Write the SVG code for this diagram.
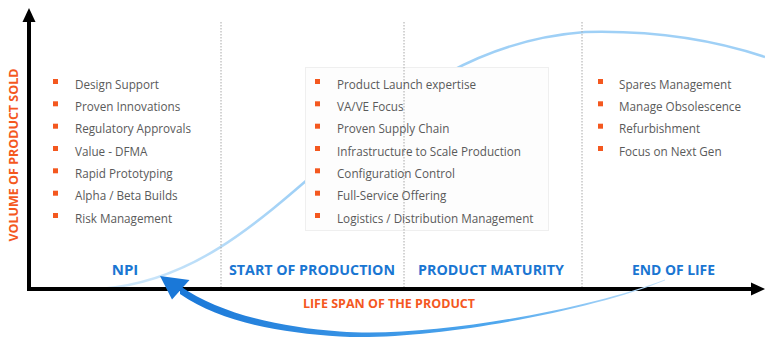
<svg xmlns="http://www.w3.org/2000/svg" width="765" height="338" viewBox="0 0 765 338">
<style>
.item{font-family:"Open Sans","DejaVu Sans",sans-serif;font-size:11.7px;fill:#5a5a5a}
.bul{fill:#f4581f}
.phase{font-family:"Open Sans","DejaVu Sans",sans-serif;font-size:15px;font-weight:bold;fill:#1a76d2}
.axl{font-family:"Open Sans","DejaVu Sans",sans-serif;font-size:12.5px;font-weight:bold;fill:#f4581f}
.div{stroke:#a8a8a8;stroke-width:1;stroke-dasharray:1.5 1.5;fill:none}
.axis{stroke:#000;stroke-width:4;fill:none}
</style>
<defs>
<linearGradient id="sg" gradientUnits="userSpaceOnUse" x1="100" y1="0" x2="300" y2="0">
<stop offset="0" stop-color="#d6ebfb"/>
<stop offset="1" stop-color="#9fd0f6"/>
</linearGradient>
<linearGradient id="ag" gradientUnits="userSpaceOnUse" x1="665" y1="0" x2="180" y2="0">
<stop offset="0" stop-color="#c5e3fb"/>
<stop offset="0.35" stop-color="#4ea7ee"/>
<stop offset="1" stop-color="#1a78d8"/>
</linearGradient>
</defs>
<rect width="765" height="338" fill="#fff"/>

<g id="lifecycle-curve">
<path d="M100,289 C190,282 250,230 330,160 S480,40 585,32 C660,30 720,42 765,57" fill="none" stroke="url(#sg)" stroke-width="2.5"/>
</g>

<g id="maturity-box">
<rect x="305.5" y="67.5" width="243" height="163" fill="#fdfdfd" stroke="#efefef"/>
</g>

<g id="dividers">
<line class="div" x1="221" y1="22" x2="221" y2="288"/>
<line class="div" x1="404" y1="22" x2="404" y2="288"/>
<line class="div" x1="582" y1="22" x2="582" y2="288"/>
</g>

<g id="axes">
<line class="axis" x1="29" y1="18" x2="29" y2="291"/>
<polygon points="29,8 22.5,22 35.5,22" fill="#000"/>
<line class="axis" x1="27" y1="289" x2="754" y2="289"/>
<polygon points="765,289 751,282.5 751,295.5" fill="#000"/>
<text class="axl" transform="translate(18,155) rotate(-90)" text-anchor="middle">VOLUME OF PRODUCT SOLD</text>
<text class="axl" x="389" y="308" text-anchor="middle">LIFE SPAN OF THE PRODUCT</text>
</g>

<g id="npi">
<rect class="bul" x="53" y="79" width="5" height="5"/><text class="item" x="75" y="88.5">Design Support</text>
<rect class="bul" x="53" y="101.3" width="5" height="5"/><text class="item" x="75" y="110.8">Proven Innovations</text>
<rect class="bul" x="53" y="123.7" width="5" height="5"/><text class="item" x="75" y="133.2">Regulatory Approvals</text>
<rect class="bul" x="53" y="146" width="5" height="5"/><text class="item" x="75" y="155.5">Value - DFMA</text>
<rect class="bul" x="53" y="168.3" width="5" height="5"/><text class="item" x="75" y="177.8">Rapid Prototyping</text>
<rect class="bul" x="53" y="190.7" width="5" height="5"/><text class="item" x="75" y="200.2">Alpha / Beta Builds</text>
<rect class="bul" x="53" y="213" width="5" height="5"/><text class="item" x="75" y="222.5">Risk Management</text>
<text class="phase" x="125" y="275" text-anchor="middle">NPI</text>
</g>

<g id="start-of-production">
<text class="phase" x="229" y="275" textLength="166" lengthAdjust="spacingAndGlyphs">START OF PRODUCTION</text>
</g>

<g id="product-maturity">
<rect class="bul" x="315" y="79" width="5" height="5"/><text class="item" x="337" y="88.5">Product Launch expertise</text>
<rect class="bul" x="315" y="101.3" width="5" height="5"/><text class="item" x="337" y="110.8">VA/VE Focus</text>
<rect class="bul" x="315" y="123.7" width="5" height="5"/><text class="item" x="337" y="133.2">Proven Supply Chain</text>
<rect class="bul" x="315" y="146" width="5" height="5"/><text class="item" x="337" y="155.5">Infrastructure to Scale Production</text>
<rect class="bul" x="315" y="168.3" width="5" height="5"/><text class="item" x="337" y="177.8">Configuration Control</text>
<rect class="bul" x="315" y="190.7" width="5" height="5"/><text class="item" x="337" y="200.2">Full-Service Offering</text>
<rect class="bul" x="315" y="213" width="5" height="5"/><text class="item" x="337" y="222.5">Logistics / Distribution Management</text>
<text class="phase" x="418" y="275" textLength="146" lengthAdjust="spacingAndGlyphs">PRODUCT MATURITY</text>
</g>

<g id="end-of-life">
<rect class="bul" x="598" y="79" width="5" height="5"/><text class="item" x="619" y="88.5">Spares Management</text>
<rect class="bul" x="598" y="101.3" width="5" height="5"/><text class="item" x="619" y="110.8">Manage Obsolescence</text>
<rect class="bul" x="598" y="123.7" width="5" height="5"/><text class="item" x="619" y="133.2">Refurbishment</text>
<rect class="bul" x="598" y="146" width="5" height="5"/><text class="item" x="619" y="155.5">Focus on Next Gen</text>
<text class="phase" x="632" y="275" textLength="83" lengthAdjust="spacingAndGlyphs">END OF LIFE</text>
</g>

<g id="connectors">
<path d="M665,279.5 C590,309 430,338.5 340,331.5 C280,327.3 220,314 180,286 L180,294 C220,322 280,332.7 340,336.5 C430,341.5 590,311 665,280.5 Z" fill="url(#ag)"/>
<polygon points="160,276 172,299.5 189.5,280" fill="#1a78d8"/>
</g>
</svg>
